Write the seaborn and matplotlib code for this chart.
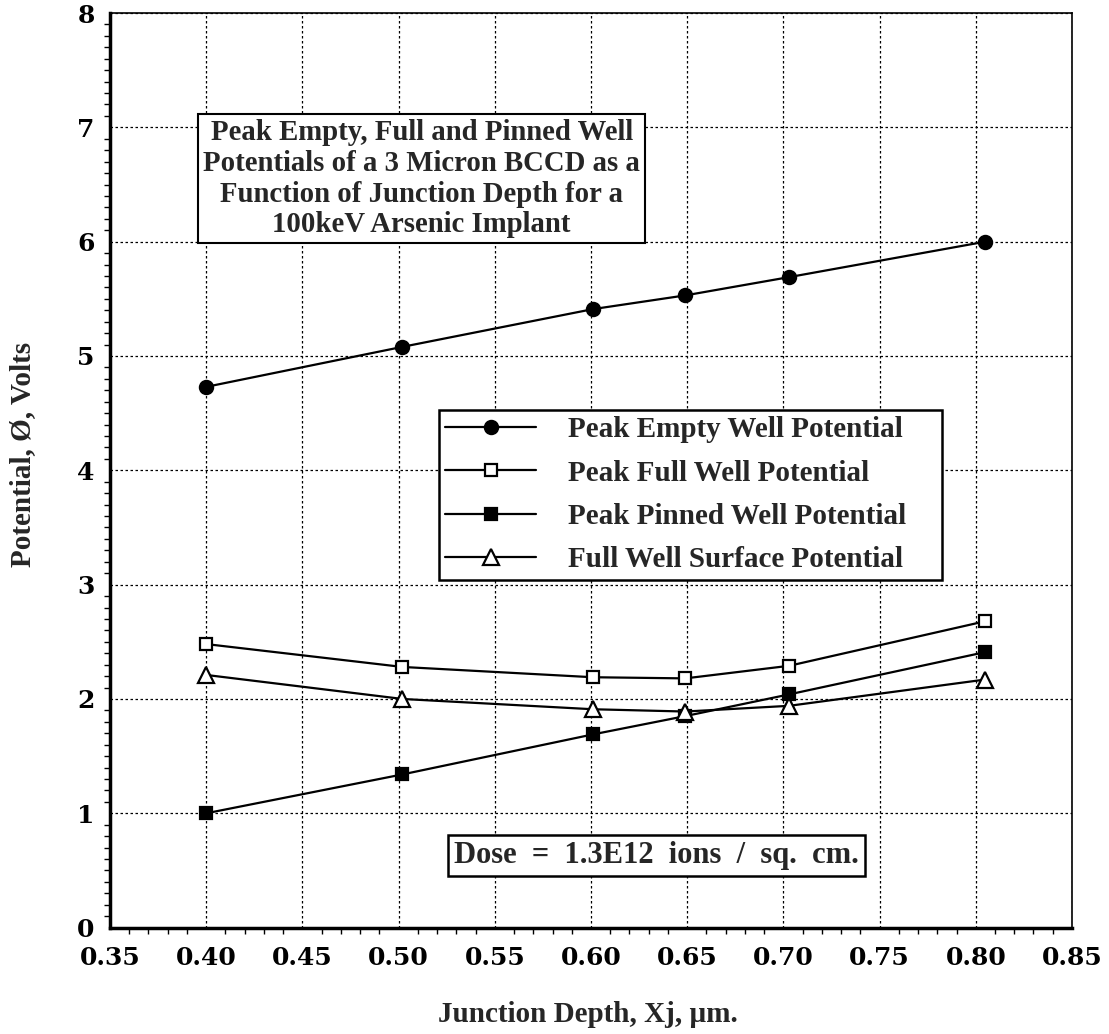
import numpy as np
import pandas as pd
import matplotlib
matplotlib.use("Agg")
import matplotlib.pyplot as plt
import seaborn as sns

depth = [0.400, 0.502, 0.601, 0.649, 0.703, 0.805]
peak_empty = [4.73, 5.08, 5.41, 5.53, 5.69, 6.00]
peak_full = [2.48, 2.28, 2.19, 2.18, 2.29, 2.68]
peak_pinned = [1.00, 1.34, 1.69, 1.85, 2.04, 2.41]
surface_full = [2.21, 2.00, 1.91, 1.89, 1.94, 2.17]
series_names = ["Peak Empty Well Potential", "Peak Full Well Potential",
                "Peak Pinned Well Potential", "Full Well Surface Potential"]
x_ticks = [0.35, 0.40, 0.45, 0.50, 0.55, 0.60, 0.65, 0.70, 0.75, 0.80, 0.85]
y_ticks = [0, 1, 2, 3, 4, 5, 6, 7, 8]
title_text = ("Peak Empty, Full and Pinned Well\nPotentials of a 3 Micron BCCD as a\n"
              "Function of Junction Depth for a\n100keV Arsenic Implant")
dose_text = "Dose  =  1.3E12  ions  /  sq.  cm."

sns.set_theme(style="white")
plt.rcParams['font.family'] = ['Liberation Serif', 'DejaVu Serif']
plt.rcParams['font.weight'] = 'bold'

fig = plt.figure(figsize=(11.09, 10.34), dpi=100)
ax = fig.add_axes([0.0992, 0.1029, 0.8674, 0.8845])

values = [peak_empty, peak_full, peak_pinned, surface_full]
styles = [dict(marker='o', mfc='black', ms=9.5),
          dict(marker='s', mfc='white', ms=9),
          dict(marker='s', mfc='black', ms=9),
          dict(marker='^', mfc='white', ms=11)]
for name, vals, st in zip(series_names, values, styles):
    df = pd.DataFrame({"x": depth, "y": vals})
    sns.lineplot(data=df, x="x", y="y", ax=ax, color='black', linewidth=1.6,
                 marker=st['marker'], markersize=st['ms'], markerfacecolor=st['mfc'],
                 markeredgecolor='black', markeredgewidth=1.6, label=name,
                 sort=False, zorder=3)

ax.set_xlim(0.35, 0.85)
ax.set_ylim(0, 8)
ax.set_xticks(x_ticks)
ax.set_xticklabels([f"{t:.2f}" for t in x_ticks])
ax.set_yticks(y_ticks)
ax.set_yticklabels([str(t) for t in y_ticks])
ax.set_xticks(np.arange(0.35, 0.8501, 0.01), minor=True)
ax.set_yticks(np.arange(0, 8.001, 0.1), minor=True)
ax.grid(True, which='major', color='black', linestyle=(0, (2, 2)), linewidth=0.9)
ax.tick_params(axis='both', which='major', direction='out', length=7, width=1.5,
               labelsize=18, color='black', labelcolor='black')
ax.tick_params(axis='both', which='minor', direction='out', length=4, width=1.0,
               color='black', bottom=True, left=True)
ax.tick_params(axis='x', pad=6)
ax.tick_params(axis='y', pad=4)
for lab in ax.get_xticklabels() + ax.get_yticklabels():
    lab.set_fontweight('bold')
    lab.set_fontfamily('DejaVu Serif')
for sp in ax.spines.values():
    sp.set_color('black')
    sp.set_linewidth(1.2)
ax.spines['left'].set_linewidth(2.5)
ax.spines['bottom'].set_linewidth(2.5)

ax.set_xlabel("Junction Depth, Xj, µm.", fontsize=21, fontweight='bold', va='center')
ax.set_ylabel("Potential, Ø, Volts", fontsize=21, fontweight='bold', va='center')
ax.xaxis.set_label_coords(0.497, -0.095)
ax.yaxis.set_label_coords(-0.091, 0.517)

handles, labels = ax.get_legend_handles_labels()
leg = ax.legend(handles, labels, loc='upper left',
                bbox_to_anchor=(0.342, 0.375, 0.523, 0.191), mode='expand',
                frameon=True, fancybox=False, edgecolor='black', framealpha=1,
                fontsize=21, handlelength=3.1, handletextpad=1.1,
                labelspacing=0.56, borderpad=0.22, borderaxespad=0)
leg.get_frame().set_linewidth(1.8)
for t in leg.get_texts():
    t.set_fontweight('bold')

ax.text(0.512, 6.55, title_text, ha='center', va='center', fontsize=20.7,
        fontweight='bold', linespacing=1.17, zorder=5,
        bbox=dict(boxstyle='square,pad=0.18', facecolor='white', edgecolor='black', linewidth=1.5))
ax.text(0.634, 0.63, dose_text, ha='center', va='center', fontsize=22,
        fontweight='bold', zorder=5,
        bbox=dict(boxstyle='square,pad=0.2', facecolor='white', edgecolor='black', linewidth=1.8))

fig.savefig("out.png", dpi=100)
